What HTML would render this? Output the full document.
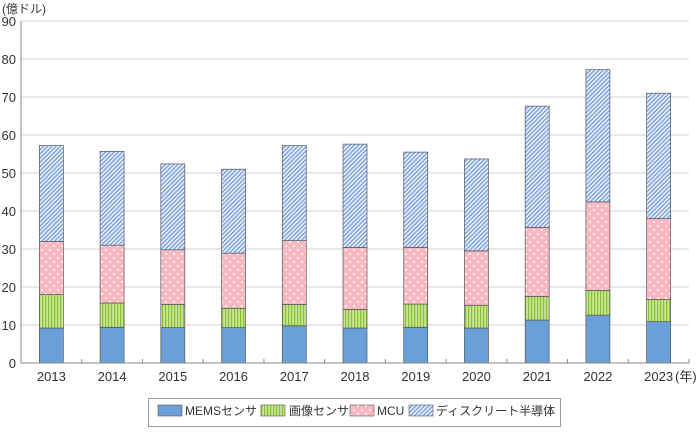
<!DOCTYPE html>
<html><head><meta charset="utf-8"><style>
body{margin:0;background:#fff;}
svg text{font-family:"Liberation Sans","Noto Sans CJK JP",sans-serif;fill:#333;}
</style></head><body>
<svg width="698" height="428">
<defs>
<pattern id="pg" width="3" height="4" patternUnits="userSpaceOnUse"><rect width="3" height="4" fill="#c9e590"/><rect width="1.2" height="4" fill="#86c036"/></pattern>
<pattern id="pp" width="8" height="8" patternUnits="userSpaceOnUse"><rect width="8" height="8" fill="#f9b7c0"/><circle cx="2" cy="2" r="1" fill="#fff"/><circle cx="6" cy="6" r="1" fill="#fff"/></pattern>
<pattern id="pb" width="3" height="3" patternUnits="userSpaceOnUse" patternTransform="rotate(45)"><rect width="3" height="3" fill="#86a9e3"/><rect width="1.2" height="3" fill="#fff"/></pattern>
</defs>
<g id="grid"></g><g id="bars"></g><g id="axes"></g>
<text x="2" y="13" font-size="12">(億ドル)</text>
<text x="675" y="381" font-size="13">(年)</text>
<g>
<rect x="148.5" y="398.5" width="412" height="28" fill="#fff" stroke="#999"/>
<rect x="158" y="405" width="24" height="11" fill="#6a9fd8" stroke="#555" stroke-width="0.6"/>
<text x="185" y="415" font-size="12">MEMSセンサ</text>
<rect x="261" y="405" width="24" height="11" fill="url(#pg)" stroke="#555" stroke-width="0.6"/>
<text x="289" y="415" font-size="12">画像センサ</text>
<rect x="350" y="405" width="24" height="11" fill="url(#pp)" stroke="#555" stroke-width="0.6"/>
<text x="377" y="415" font-size="12">MCU</text>
<rect x="409" y="405" width="24" height="11" fill="url(#pb)" stroke="#555" stroke-width="0.6"/>
<text x="436" y="415" font-size="12">ディスクリート半導体</text>
</g>
</svg>
<script>
const categories=["2013","2014","2015","2016","2017","2018","2019","2020","2021","2022","2023"];
const mems=[9.2,9.4,9.3,9.3,9.8,9.2,9.4,9.2,11.3,12.6,10.9];
const image=[8.8,6.4,6.1,5.1,5.6,4.9,6.1,6.0,6.2,6.5,5.8];
const mcu=[14.0,15.2,14.4,14.5,16.8,16.3,14.9,14.3,18.2,23.3,21.3];
const discrete=[25.2,24.7,22.6,22.1,25.0,27.2,25.1,24.2,31.9,34.8,33.0];
const yTicks=[0,10,20,30,40,50,60,70,80,90];
const NS="http://www.w3.org/2000/svg";
const x0=21,x1=689,yBase=363,yTop=21,yMax=90;
const band=(x1-x0)/categories.length,bw=24;
const y=v=>yBase-(v/yMax)*(yBase-yTop);
const cx=i=>x0+band*(i+0.5);
function mk(t,a,p){const e=document.createElementNS(NS,t);for(const k in a)e.setAttribute(k,a[k]);p.appendChild(e);return e;}
const grid=document.getElementById('grid'),bars=document.getElementById('bars'),axes=document.getElementById('axes');
yTicks.forEach(t=>{
 if(t>0){const l=mk('line',{x1:x0,x2:x1,y1:y(t),y2:y(t),stroke:'#d0d0d0','stroke-width':1},grid);
 
 }
 const tx=mk('text',{x:16,y:y(t)+5,'font-size':13,'text-anchor':'end'},axes);tx.textContent=t;
 
 
});
const series=[[mems,'#6a9fd8','mems'],[image,'url(#pg)','image'],[mcu,'url(#pp)','mcu'],[discrete,'url(#pb)','discrete']];
categories.forEach((c,i)=>{
 let acc=0;
 series.forEach(([arr,fill,nm])=>{
  const v=arr[i];const r=mk('rect',{x:cx(i)-bw/2,y:y(acc+v),width:bw,height:y(acc)-y(acc+v),fill:fill,stroke:'#555','stroke-width':0.7},bars);
  
  
  acc+=v;
 });
 const tx=mk('text',{x:cx(i),y:381,'font-size':13,'text-anchor':'middle'},axes);tx.textContent=c;
 
 
 const tk=mk('line',{x1:x0+band*(i+1),x2:x0+band*(i+1),y1:yBase,y2:yBase-4,stroke:'#888'},axes);
 
 
});
const ya=mk('line',{x1:x0,x2:x0,y1:yTop,y2:yBase,stroke:'#888'},axes);


const xa=mk('line',{x1:x0,x2:x1,y1:yBase,y2:yBase,stroke:'#888'},axes);


</script>
</body></html>
